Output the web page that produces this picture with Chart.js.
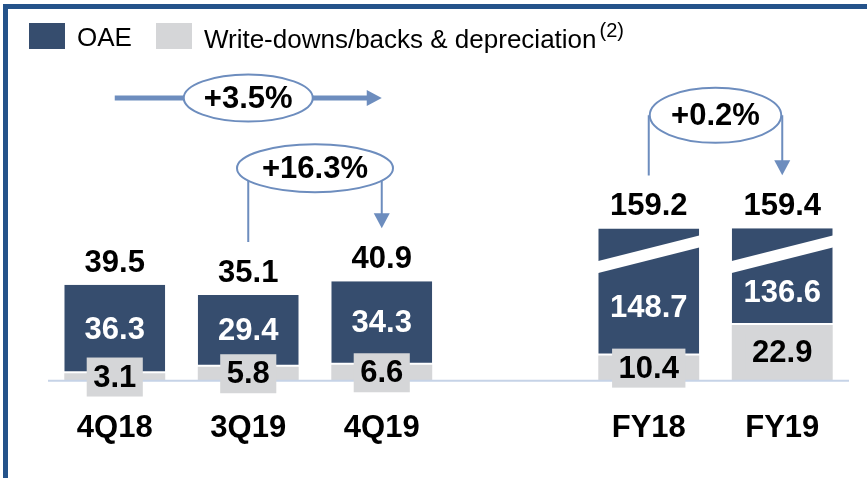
<!DOCTYPE html>
<html>
<head>
<meta charset="utf-8">
<script src="https://cdn.jsdelivr.net/npm/chart.js@4.4.0/dist/chart.umd.min.js"></script>
<style>
  body { margin: 0; background: #fff; font-family: "Liberation Sans", Arial, sans-serif; }
  #wrap { position: relative; width: 867px; height: 478px; overflow: hidden; }
  #frame-top { position: absolute; left: 3px; top: 4px; width: 864px; height: 5px; background: #24538a; }
  #frame-left { position: absolute; left: 3px; top: 4px; width: 5px; height: 474px; background: #24538a; }
  #legend { position: absolute; left: 29px; top: 19px; display: flex; align-items: center; font-size: 26px; color: #000; }
  .legend-item { display: flex; align-items: center; margin-right: 24px; }
  .legend-box { width: 36px; height: 26px; margin-right: 12px; }
  .legend-text { position: relative; top: 1px; white-space: nowrap; }
  .legend-text sup { font-size: 20px; margin-left: 3px; position: relative; top: -1px; }
  canvas { position: absolute; left: 0; top: 0; }
</style>
</head>
<body>
<div id="wrap">
  <canvas id="chart" width="867" height="478"></canvas>
  <div id="frame-top"></div>
  <div id="frame-left"></div>
  <div id="legend"></div>
</div>
<script>
// ---- Data ----
const categories = ['4Q18', '3Q19', '4Q19', '', 'FY18', 'FY19'];
const oaeValues = [36.3, 29.4, 34.3, null, 148.7, 136.6];
const writeDownValues = [3.1, 5.8, 6.6, null, 10.4, 22.9];
const totalValues = [39.5, 35.1, 40.9, null, 159.2, 159.4];
const brokenBars = [false, false, false, false, true, true];
const seriesNames = ['OAE', 'Write-downs/backs & depreciation'];
const seriesNotes = ['', '(2)'];
const growthArrows = [
  { from: 0, to: 2, label: '+3.5%', kind: 'straight' },
  { from: 1, to: 2, label: '+16.3%', kind: 'bracket' },
  { from: 4, to: 5, label: '+0.2%', kind: 'bracket' }
];

const OAE_COLOR = '#364d6e';
const WD_COLOR = '#d5d6d8';
const ARROW_COLOR = '#6d8dbe';
const FONT = '"Liberation Sans", Arial, sans-serif';

// axis break for the full-year bars
const breakAt = 52;
const breakScale = 0.0984;
function shown(v) {
  return v <= breakAt ? v : breakAt + (v - breakAt) * breakScale;
}
const oaeShown = oaeValues.map((v, i) => {
  if (v === null) return null;
  if (!brokenBars[i]) return v;
  return shown(v + writeDownValues[i]) - writeDownValues[i];
});

// ---- Labels & annotations plugin ----
const labelPlugin = {
  id: 'labels',
  afterDatasetsDraw(chart) {
    const { ctx, chartArea, scales } = chart;
    const x = scales.x, y = scales.y;
    const wdMeta = chart.getDatasetMeta(0);
    const oaeMeta = chart.getDatasetMeta(1);
    ctx.save();

    // broken bar stripe
    brokenBars.forEach((b, i) => {
      if (!b) return;
      const bar = oaeMeta.data[i];
      const cy = y.getPixelForValue(breakAt);
      const l = bar.x - bar.width / 2 - 2, r = bar.x + bar.width / 2 + 2;
      const half = (r - l) / 2, slope = 25.5 / bar.width;
      ctx.fillStyle = '#fff';
      ctx.beginPath();
      ctx.moveTo(l, cy + half * slope - 6);
      ctx.lineTo(r, cy - half * slope - 6);
      ctx.lineTo(r, cy - half * slope + 6);
      ctx.lineTo(l, cy + half * slope + 6);
      ctx.closePath();
      ctx.fill();
    });

    // base line
    const y0 = y.getPixelForValue(0);
    ctx.strokeStyle = '#c6d3e7';
    ctx.lineWidth = 2;
    ctx.beginPath();
    ctx.moveTo(chartArea.left, y0);
    ctx.lineTo(chartArea.right, y0);
    ctx.stroke();

    ctx.font = `bold 31px ${FONT}`;
    ctx.textAlign = 'center';
    categories.forEach((c, i) => {
      if (oaeValues[i] === null) return;
      const oaeBar = oaeMeta.data[i];
      const wdBar = wdMeta.data[i];

      // total
      ctx.fillStyle = '#000';
      ctx.textBaseline = 'alphabetic';
      ctx.fillText(totalValues[i].toFixed(1), oaeBar.x, oaeBar.y - 13);

      // OAE value
      let top = oaeBar.y;
      if (brokenBars[i]) top = y.getPixelForValue(breakAt) + 6;
      ctx.fillStyle = '#fff';
      ctx.textBaseline = 'middle';
      ctx.fillText(oaeValues[i].toFixed(1), oaeBar.x, (top + oaeBar.base) / 2 + 1);

      // write-downs value with box
      const txt = writeDownValues[i].toFixed(1);
      const cy = (wdBar.y + wdBar.base) / 2;
      const w = ctx.measureText(txt).width + 13;
      ctx.fillStyle = WD_COLOR;
      ctx.fillRect(wdBar.x - w / 2, cy - 19.5, w, 39);
      ctx.fillStyle = '#000';
      ctx.fillText(txt, wdBar.x, cy + 1);
    });

    // growth arrows
    ctx.strokeStyle = ARROW_COLOR;
    ctx.fillStyle = ARROW_COLOR;
    growthArrows.forEach(a => {
      const x1 = x.getPixelForValue(a.from), x2 = x.getPixelForValue(a.to);
      const mid = (x1 + x2) / 2;
      let cy, rx, ry;
      if (a.kind === 'straight') {
        cy = 98; rx = 64.5; ry = 23.5;
        ctx.lineWidth = 5;
        ctx.beginPath();
        ctx.moveTo(x1, cy);
        ctx.lineTo(x2 - 14, cy);
        ctx.stroke();
        ctx.beginPath();
        ctx.moveTo(x2, cy);
        ctx.lineTo(x2 - 15, cy - 8);
        ctx.lineTo(x2 - 15, cy + 8);
        ctx.closePath();
        ctx.fill();
      } else {
        const end1 = oaeMeta.data[a.from].y - 53;
        const end2 = oaeMeta.data[a.to].y - 53;
        cy = Math.min(end1, end2) - 60;
        rx = a.from === 4 ? (x2 - x1) / 2 - 1 : 78;
        ry = a.from === 4 ? 27.5 : 24;
        ctx.lineWidth = 2;
        ctx.beginPath();
        ctx.moveTo(x1, cy);
        ctx.lineTo(x1, end1);
        ctx.moveTo(x2, cy);
        ctx.lineTo(x2, end2 - 14);
        ctx.stroke();
        ctx.beginPath();
        ctx.moveTo(x2, end2);
        ctx.lineTo(x2 - 8, end2 - 15);
        ctx.lineTo(x2 + 8, end2 - 15);
        ctx.closePath();
        ctx.fill();
      }
      ctx.lineWidth = 2;
      ctx.beginPath();
      ctx.ellipse(mid, cy, rx, ry, 0, 0, Math.PI * 2);
      ctx.fillStyle = '#fff';
      ctx.fill();
      ctx.stroke();
      ctx.fillStyle = '#000';
      ctx.textBaseline = 'middle';
      ctx.fillText(a.label, mid, cy + 1);
      ctx.fillStyle = ARROW_COLOR;
    });
    ctx.restore();
  }
};

// ---- Chart ----
const chart = new Chart(document.getElementById('chart').getContext('2d'), {
  type: 'bar',
  data: {
    labels: categories,
    datasets: [{
      label: seriesNames[1],
      data: writeDownValues,
      backgroundColor: WD_COLOR,
      barPercentage: 0.756,
      categoryPercentage: 1
    }, {
      label: seriesNames[0],
      data: oaeShown,
      backgroundColor: OAE_COLOR,
      borderColor: '#fff',
      borderWidth: { top: 0, left: 0, right: 0, bottom: 2 },
      borderSkipped: false,
      barPercentage: 0.756,
      categoryPercentage: 1
    }]
  },
  options: {
    responsive: false,
    animation: false,
    layout: { padding: { left: 48, right: 18, top: 60, bottom: 2 } },
    plugins: { legend: { display: false }, tooltip: { enabled: false } },
    scales: {
      x: {
        stacked: true,
        grid: { display: false, drawTicks: false },
        border: { display: false },
        ticks: {
          color: '#000',
          font: { family: FONT, size: 31, weight: 'bold' },
          padding: 29,
          autoSkip: false,
          maxRotation: 0
        }
      },
      y: { stacked: true, display: false, min: 0, max: 131.7 }
    }
  },
  plugins: [labelPlugin]
});

// ---- Legend ----
const legendEl = document.getElementById('legend');
[1, 0].forEach(di => {
  const ds = chart.data.datasets[di];
  const item = document.createElement('div');
  item.className = 'legend-item';
  const box = document.createElement('span');
  box.className = 'legend-box';
  box.style.background = ds.backgroundColor;
  const txt = document.createElement('span');
  txt.className = 'legend-text';
  txt.textContent = ds.label;
  const note = seriesNotes[seriesNames.indexOf(ds.label)];
  if (note) {
    const sup = document.createElement('sup');
    sup.textContent = note;
    txt.appendChild(sup);
  }
  item.append(box, txt);
  legendEl.appendChild(item);
});
</script>
</body>
</html>
